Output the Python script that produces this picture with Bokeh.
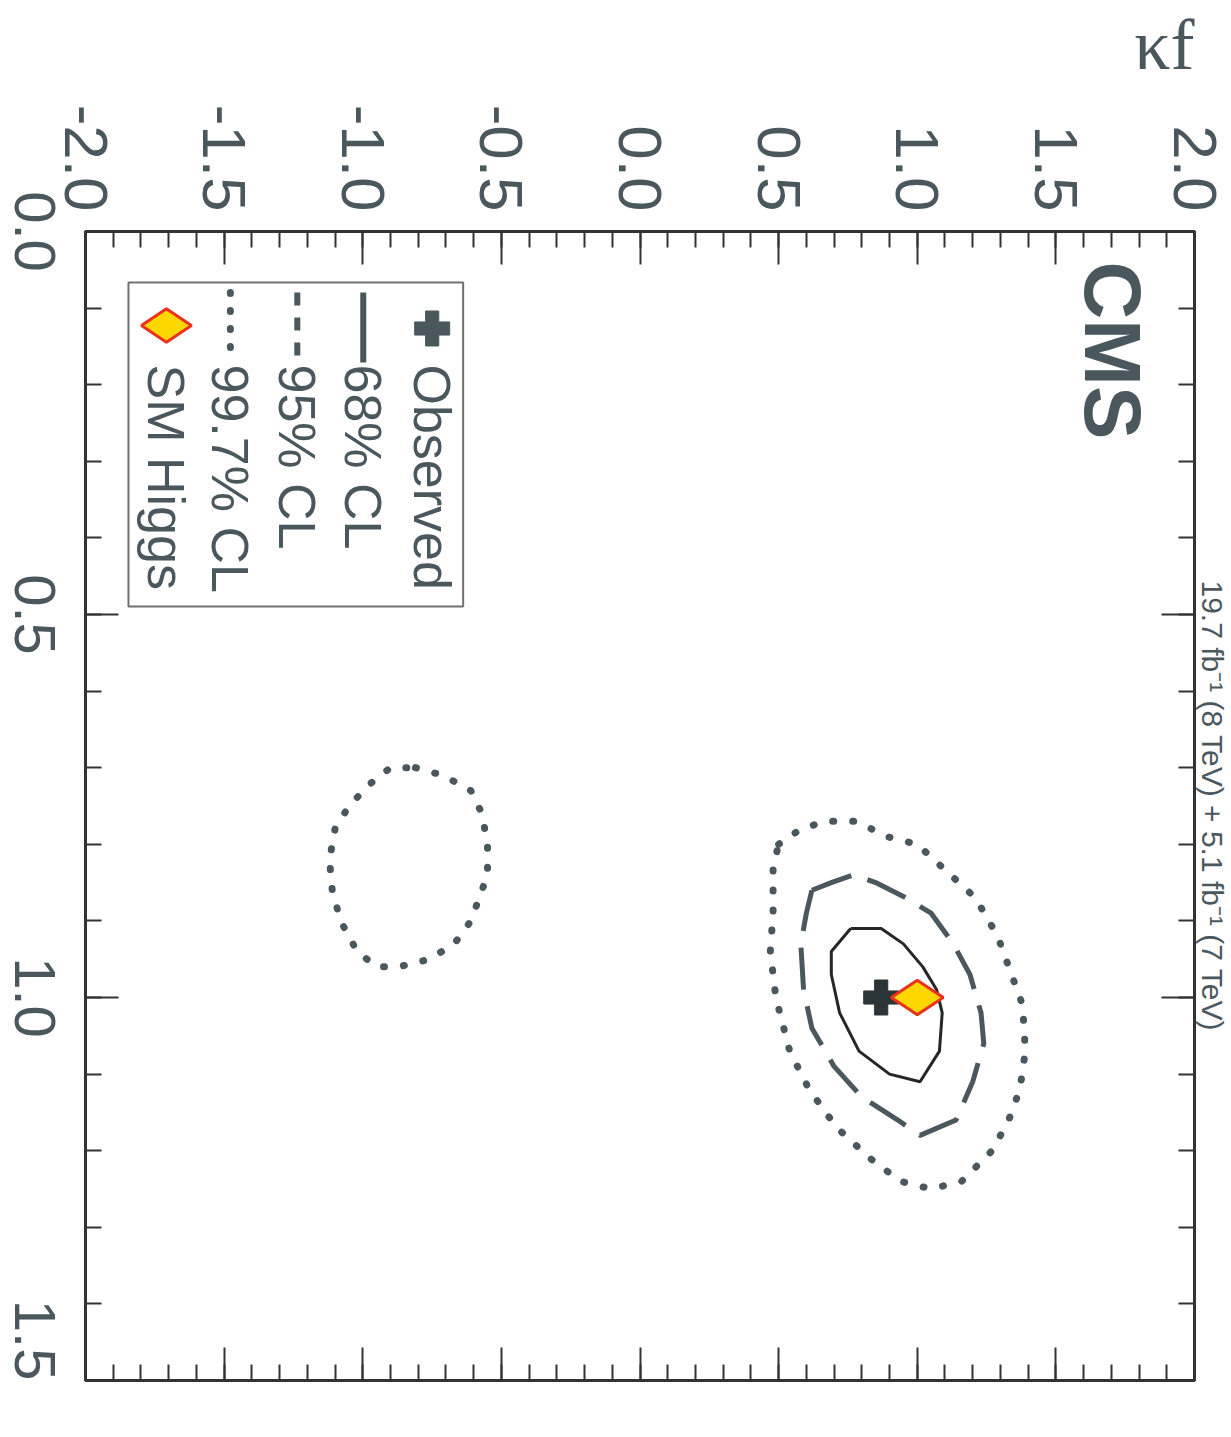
import math
from bokeh.plotting import figure
from bokeh.models import (Range1d, LinearAxis, SingleIntervalTicker, FixedTicker, Label,
                          CustomJSTickFormatter)
from bokeh.core.properties import value
from bokeh.embed import file_html
from bokeh.resources import INLINE

# ---------------- data (kappa_f, kappa_V) ----------------
kf_68 = [0.76, 0.69, 0.69, 0.72, 0.79, 0.90, 1.01, 1.08, 1.09, 1.07, 1.02, 0.95, 0.87, 0.76]
kv_68 = [0.91, 0.94, 0.97, 1.02, 1.07, 1.10, 1.11, 1.07, 1.02, 0.99, 0.96, 0.93, 0.91, 0.91]

kf_95 = [0.62, 0.69, 0.77, 0.85, 0.96, 1.05, 1.13, 1.19, 1.23, 1.24, 1.20, 1.14, 1.01,
         0.93, 0.80, 0.70, 0.62, 0.59, 0.58, 0.60, 0.62]
kv_95 = [0.86, 0.85, 0.84, 0.85, 0.87, 0.89, 0.93, 0.97, 1.02, 1.06, 1.11, 1.16, 1.18,
         1.16, 1.13, 1.09, 1.04, 0.99, 0.93, 0.89, 0.86]

kf_997_a = [0.50, 0.58, 0.67, 0.78, 0.89, 1.00, 1.12, 1.21, 1.29, 1.34, 1.38, 1.39, 1.37, 1.33,
            1.27, 1.16, 1.05, 0.94, 0.83, 0.71, 0.61, 0.54, 0.49, 0.47, 0.48, 0.48, 0.50]
kv_997_a = [0.80, 0.78, 0.77, 0.77, 0.79, 0.80, 0.84, 0.87, 0.92, 0.97, 1.01, 1.07, 1.12, 1.16,
            1.20, 1.24, 1.25, 1.24, 1.21, 1.17, 1.12, 1.07, 1.00, 0.94, 0.89, 0.83, 0.80]

kf_997_b = [-0.81, -0.71, -0.61, -0.57, -0.55, -0.55, -0.58, -0.61, -0.67, -0.76, -0.87,
            -0.95, -1.02, -1.08, -1.11, -1.12, -1.10, -1.05, -0.97, -0.90, -0.81]
kv_997_b = [0.70, 0.71, 0.73, 0.76, 0.80, 0.84, 0.87, 0.90, 0.93, 0.95, 0.96,
            0.96, 0.94, 0.90, 0.86, 0.82, 0.78, 0.75, 0.72, 0.70, 0.70]

best_fit_kf = [0.87]
best_fit_kv = [1.00]
sm_kf = [1.0]
sm_kv = [1.0]

kf_tick_values = [-2.0, -1.5, -1.0, -0.5, 0.0, 0.5, 1.0, 1.5, 2.0]
kf_tick_labels = ["-2.0", "-1.5", "-1.0", "-0.5", "0.0", "0.5", "1.0", "1.5", "2.0"]
kv_tick_values = [0.0, 0.5, 1.0, 1.5]
kv_tick_labels = ["0.0", "0.5", "1.0", "1.5"]

legend_labels = ["Observed", "68% CL", "95% CL", "99.7% CL", "SM Higgs"]
cms_text = "CMS"
lumi_text = "19.7 fb\u207b\u00b9 (8 TeV) + 5.1 fb\u207b\u00b9 (7 TeV)"
kf_title = "\u03baf"

# ---------------- layout ----------------
FL, FR, FT, FB = 85, 1195, 231, 1380     # frame edges on the page (pixels)
BORDER_L, BORDER_T = 140, 260            # canvas borders (canvas is shifted up/left)
SHIFT_X, SHIFT_Y = BORDER_L - FL, BORDER_T - FT
W = 1231 + SHIFT_X
H = 1437 + SHIFT_Y
KV_MIN, KV_MAX = 0.0, 1.5

def fx(px):
    return -2.0 + (px - FL) * 4.0 / (FR - FL)

def fy(py):
    return KV_MIN + (py - FT) * (KV_MAX - KV_MIN) / (FB - FT)

TXT = "#4a585e"
LINE = "#4a575c"
DARK = "#333333"
ROT = -math.pi / 2
FONT = value("Liberation Sans")

p = figure(width=W, height=H, x_range=Range1d(-2, 2), y_range=Range1d(KV_MAX, KV_MIN),
           output_backend="svg", toolbar_location=None, x_axis_location="above",
           title=kf_title,
           min_border_left=BORDER_L, min_border_right=1231 - FR,
           min_border_top=BORDER_T, min_border_bottom=1437 - FB)
p.styles = {"margin-left": f"-{SHIFT_X}px", "margin-top": f"-{SHIFT_Y}px"}
p.grid.visible = False
p.background_fill_color = "white"
p.border_fill_color = "white"
p.outline_line_color = DARK
p.outline_line_width = 3

# kappa_f axis title (top right, upright)
p.title.align = "right"
p.title.standoff = 34
p.title.text_font = "Liberation Serif"
p.title.text_font_size = "72px"
p.title.text_font_style = "normal"
p.title.text_color = TXT

empty_fmt = CustomJSTickFormatter(code="return ''")

def style_axis(ax):
    ax.ticker = SingleIntervalTicker(interval=0.5, num_minor_ticks=5)
    ax.major_tick_in = 33
    ax.major_tick_out = 0
    ax.minor_tick_in = 16
    ax.minor_tick_out = 0
    ax.axis_line_width = 3
    ax.axis_line_color = DARK
    ax.major_tick_line_width = 2
    ax.minor_tick_line_width = 2
    ax.major_tick_line_color = DARK
    ax.minor_tick_line_color = DARK

# top axis: kappa_f
top = p.xaxis[0]
style_axis(top)
top.major_label_overrides = {v: l for v, l in zip(kf_tick_values, kf_tick_labels)}
top.major_label_orientation = ROT
top.major_label_standoff = 20
top.major_label_text_font = "Liberation Sans"
top.major_label_text_font_size = "62px"
top.major_label_text_color = TXT

# left axis: kappa_V ticks (no labels)
left = p.yaxis[0]
style_axis(left)
left.formatter = empty_fmt
left.major_label_standoff = 0
left.major_label_text_font_size = "0px"

# left label-only axis: rotated labels centred on the kappa_V ticks
KV_LABEL_PX = 58
half_len = 0.5 * 1.39 * KV_LABEL_PX * (KV_MAX - KV_MIN) / (FB - FT)
label_ticks = [min(v + half_len, KV_MAX) for v in kv_tick_values]
lab_ax = LinearAxis(ticker=FixedTicker(ticks=label_ticks, minor_ticks=[]))
lab_ax.major_label_overrides = {t: l for t, l in zip(label_ticks, kv_tick_labels)}
lab_ax.axis_line_color = None
lab_ax.major_tick_in = 0
lab_ax.major_tick_out = 0
lab_ax.minor_tick_in = 0
lab_ax.minor_tick_out = 0
lab_ax.major_label_orientation = ROT
lab_ax.major_label_standoff = 51
lab_ax.major_label_text_font = "Liberation Sans"
lab_ax.major_label_text_font_size = f"{KV_LABEL_PX}px"
lab_ax.major_label_text_color = TXT
p.add_layout(lab_ax, "left")

# right axis: ticks + luminosity text
right_ax = LinearAxis(formatter=empty_fmt, major_label_standoff=0,
                      major_label_text_font_size="0px")
style_axis(right_ax)
right_ax.axis_label = lumi_text
right_ax.axis_label_standoff = 1
right_ax.axis_label_text_font = "Liberation Sans"
right_ax.axis_label_text_font_style = "normal"
right_ax.axis_label_text_font_size = "30px"
right_ax.axis_label_text_color = TXT
p.add_layout(right_ax, "right")

bottom_ax = LinearAxis(formatter=empty_fmt, major_label_standoff=0,
                       major_label_text_font_size="0px")
style_axis(bottom_ax)
p.add_layout(bottom_ax, "below")

# CMS label
p.add_layout(Label(x=fx(1113), y=fy(261), text=cms_text, angle=ROT, text_align="left",
                   text_baseline="middle", text_font="Liberation Sans",
                   text_font_style="bold", text_font_size="80px", text_color=TXT))

# ---------------- contours ----------------
p.line(kf_997_a, kv_997_a, line_color=LINE, line_width=7, line_dash="1 19", line_cap="round")
p.line(kf_997_b, kv_997_b, line_color=LINE, line_width=7, line_dash="1 19", line_cap="round")
p.line(kf_95, kv_95, line_color=LINE, line_width=5, line_dash="42 17")
p.line(kf_68, kv_68, line_color="#262626", line_width=3)

p.scatter(best_fit_kf, best_fit_kv, marker="plus", size=35, fill_color="#2b3436",
          line_color="#2b3436")
p.scatter(sm_kf, sm_kv, marker="diamond", size=52, angle=math.pi / 2,
          fill_color="#ffd700", line_color="#e8321e", line_width=3)

# ---------------- legend (rotated) ----------------
p.quad(left=[fx(128)], right=[fx(463)], top=[fy(282)], bottom=[fy(606)],
       fill_color="white", line_color="#707070", line_width=2)
cols = [432, 363, 297, 230, 166]
p.scatter([fx(cols[0])], [fy(328)], marker="plus", size=35, fill_color="#4a585e",
          line_color="#4a585e")
p.line([fx(cols[1])] * 2, [fy(292), fy(362)], line_color=TXT, line_width=6)
p.line([fx(cols[2])] * 2, [fy(292), fy(362)], line_color=TXT, line_width=6, line_dash="13 12")
p.line([fx(cols[3])] * 2, [fy(292), fy(364)], line_color=TXT, line_width=7,
       line_dash="1 17", line_cap="round")
p.scatter([fx(cols[4])], [fy(325)], marker="diamond", size=50, angle=math.pi / 2,
          fill_color="#ffd700", line_color="#e8321e", line_width=3)
p.text(x=[fx(c) for c in cols], y=[fy(364)] * len(cols), text=legend_labels, angle=ROT,
       text_align="left", text_baseline="middle", text_font=FONT,
       text_font_size="52px", text_color=TXT)

open("out.html", "w").write(file_html(p, INLINE))
